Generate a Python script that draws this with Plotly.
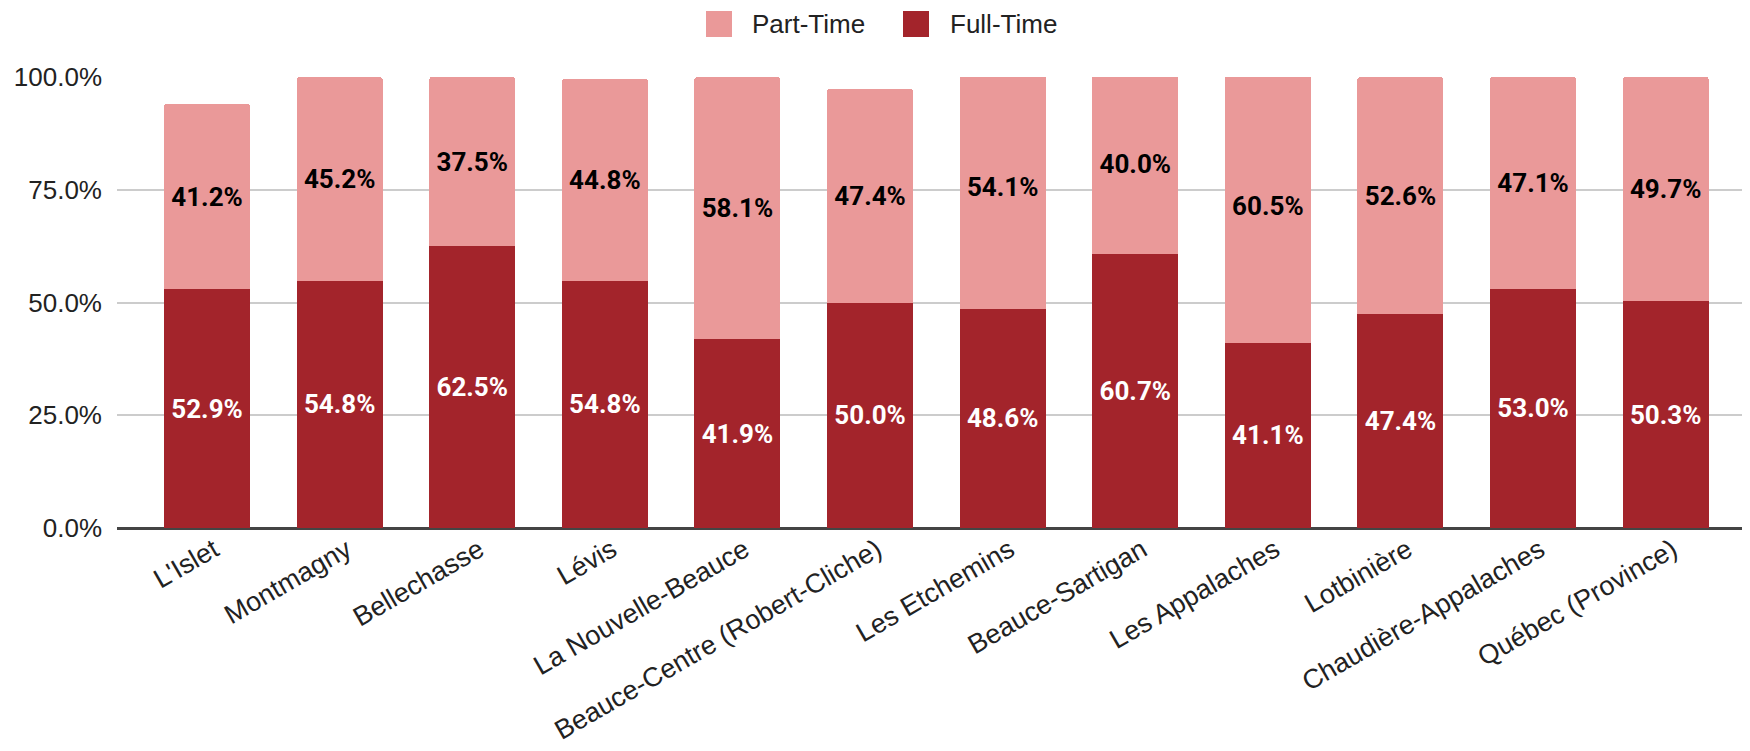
import plotly.graph_objects as go

categories = ["L'Islet", "Montmagny", "Bellechasse", "Lévis", "La Nouvelle-Beauce",
              "Beauce-Centre (Robert-Cliche)", "Les Etchemins", "Beauce-Sartigan",
              "Les Appalaches", "Lotbinière", "Chaudière-Appalaches", "Québec (Province)"]
full_time = [52.9, 54.8, 62.5, 54.8, 41.9, 50.0, 48.6, 60.7, 41.1, 47.4, 53.0, 50.3]
part_time = [41.2, 45.2, 37.5, 44.8, 58.1, 47.4, 54.1, 40.0, 60.5, 52.6, 47.1, 49.7]
y_ticks = [0, 25, 50, 75, 100]
series_names = ["Part-Time", "Full-Time"]

FULL_COLOR = "#A3242B"
PART_COLOR = "#EA9999"
TEXT_COLOR = "#222222"

fig = go.Figure()
fig.add_trace(go.Bar(
    x=categories, y=full_time, name="Full-Time", showlegend=False,
    marker=dict(color=FULL_COLOR, line=dict(width=0)),
    texttemplate="%{y:.1f}%", textposition="inside", insidetextanchor="middle",
    textfont=dict(family="Roboto", size=26, color="white", weight="bold"),
    textangle=0,
))
fig.add_trace(go.Bar(
    x=categories, y=part_time, name="Part-Time", showlegend=False,
    marker=dict(color=PART_COLOR, line=dict(width=0)),
    texttemplate="%{y:.1f}%", textposition="inside", insidetextanchor="middle",
    textfont=dict(family="Roboto", size=26, color="black", weight="bold"),
    textangle=0,
))

# plot area geometry (page px): left 117, right 1750, top 77, bottom 528
PL, PR, PT, PB = 117, 1750, 77, 528
def px_x(p):
    return (p - PL) / (PR - PL)
def px_y(p):
    return (PB - p) / (PB - PT)

legend_items = [(series_names[0], PART_COLOR, 719, 750), (series_names[1], FULL_COLOR, 916, 948)]
shapes = []
annotations = []
for name, color, sq_cx, text_x in legend_items:
    shapes.append(dict(type="rect", xref="paper", yref="paper",
                       xsizemode="pixel", ysizemode="pixel",
                       xanchor=px_x(sq_cx), yanchor=px_y(24),
                       x0=-13, x1=13, y0=-13, y1=13,
                       fillcolor=color, line=dict(width=0)))
    annotations.append(dict(text=name, xref="paper", yref="paper",
                            x=px_x(text_x), y=px_y(24), xanchor="left", yanchor="middle",
                            showarrow=False,
                            font=dict(family="Liberation Sans, Arial", size=26, color=TEXT_COLOR)))

fig.update_layout(
    width=1742, height=743,
    barmode="stack", bargap=0.351, barcornerradius=3,
    plot_bgcolor="white", paper_bgcolor="white",
    margin=dict(l=109, r=0, t=69, b=223, autoexpand=False),
    font=dict(family="Liberation Sans, Arial", color=TEXT_COLOR),
    showlegend=False,
    shapes=shapes, annotations=annotations,
)
fig.update_xaxes(
    range=[-0.679, 11.636], tickangle=-30, showgrid=False, showline=False,
    tickfont=dict(size=27, color=TEXT_COLOR), ticks="", automargin=False,
    ticklabelshift=7,
)
fig.update_yaxes(
    range=[0, 100], tickvals=y_ticks, ticktext=[f"{v:.1f}%" for v in y_ticks],
    showgrid=True, gridcolor="#cccccc", gridwidth=2,
    zeroline=True, zerolinecolor="#444444", zerolinewidth=2.5,
    tickfont=dict(size=26, color=TEXT_COLOR), ticks="", ticklabelstandoff=14, automargin=False,
)
fig.write_html("out.html")
